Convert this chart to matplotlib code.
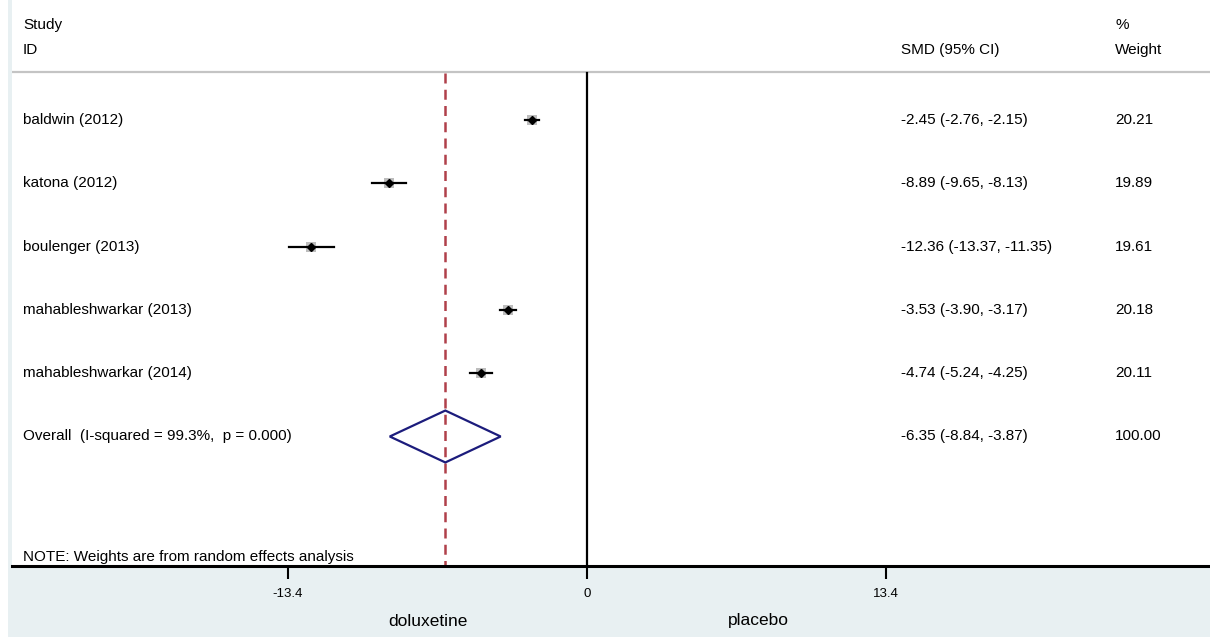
import matplotlib
matplotlib.use("Agg")
import matplotlib.pyplot as plt
import matplotlib.transforms as mtransforms
from matplotlib.patches import Polygon, Rectangle

plt.rcParams['font.family'] = ['Liberation Sans', 'DejaVu Sans']

# Study data (SMD, 95% CI, % weight)
studies = ["baldwin (2012)", "katona (2012)", "boulenger (2013)",
           "mahableshwarkar (2013)", "mahableshwarkar (2014)"]
smd = [-2.45, -8.89, -12.36, -3.53, -4.74]
ci_lo = [-2.76, -9.65, -13.37, -3.90, -5.24]
ci_hi = [-2.15, -8.13, -11.35, -3.17, -4.25]
weights = [20.21, 19.89, 19.61, 20.18, 20.11]

overall_label = "Overall  (I-squared = 99.3%,  p = 0.000)"
overall = -6.35
overall_lo = -8.84
overall_hi = -3.87
overall_weight = 100.00

xticks = [-13.4, 0, 13.4]
left_label = "doluxetine"
right_label = "placebo"
note = "NOTE: Weights are from random effects analysis"

bg = "#e8f0f2"
fig = plt.figure(figsize=(12.10, 6.37), dpi=100, facecolor="white")
fig.patches.append(Rectangle((8 / 1210, 0), 1, 1, transform=fig.transFigure,
                             facecolor=bg, edgecolor="none", zorder=-10))

ax = fig.add_axes([12 / 1210, 71 / 637, 1198 / 1210, 566 / 637])
ax.set_facecolor("white")
ax.set_xlim(-25.77, 27.92)
ax.set_ylim(7.046, -1.896)
for s in ["top", "left", "right"]:
    ax.spines[s].set_visible(False)
ax.spines["bottom"].set_linewidth(2.2)
ax.set_yticks([])
ax.set_xticks(xticks)
ax.set_xticklabels([f"{t:g}" for t in xticks])
ax.tick_params(axis="x", length=9, width=1.5, pad=7, labelsize=9.5)

bt = mtransforms.blended_transform_factory(ax.transAxes, ax.transData)
fs = 11
x_id, x_smd, x_w = 0.0092, 0.742, 0.921

# header
ax.text(x_id, -1.50, "Study", fontsize=fs, transform=bt, va="center")
ax.text(x_id, -1.11, "ID", fontsize=fs, transform=bt, va="center")
ax.text(x_smd, -1.11, "SMD (95% CI)", fontsize=fs, transform=bt, va="center")
ax.text(x_w, -1.50, "%", fontsize=fs, transform=bt, va="center")
ax.text(x_w, -1.11, "Weight", fontsize=fs, transform=bt, va="center")
ax.plot([0, 1], [-0.76, -0.76], transform=bt, color="#c4c4c4", lw=1.6)

# reference lines
ax.plot([0, 0], [-0.74, 7.046], color="black", lw=1.6, zorder=2)
ax.plot([overall, overall], [-0.74, 7.046], color="#b0404a", lw=1.8,
        linestyle=(0, (4, 2.5)), zorder=2)

# studies
for i, name in enumerate(studies):
    ax.text(x_id, i, name, fontsize=fs, transform=bt, va="center")
    ax.text(x_smd, i, f"{smd[i]:.2f} ({ci_lo[i]:.2f}, {ci_hi[i]:.2f})",
            fontsize=fs, transform=bt, va="center")
    ax.text(x_w, i, f"{weights[i]:.2f}", fontsize=fs, transform=bt, va="center")
    ax.plot(smd[i], i, marker="s", markersize=weights[i] * 0.38,
            color="#bdbdbd", markeredgewidth=0, zorder=3)
    ax.plot([ci_lo[i], ci_hi[i]], [i, i], color="black", lw=1.6, zorder=4)
    ax.plot(smd[i], i, marker="D", markersize=4.5, color="black", zorder=5)

# overall
yo = len(studies)
ax.add_patch(Polygon([[overall_lo, yo], [overall, yo - 0.41], [overall_hi, yo],
                      [overall, yo + 0.41]], closed=True, fill=False,
                     edgecolor="#1c1c7c", lw=1.6, zorder=5))
ax.text(x_id, yo, overall_label, fontsize=fs, transform=bt, va="center")
ax.text(x_smd, yo, f"{overall:.2f} ({overall_lo:.2f}, {overall_hi:.2f})",
        fontsize=fs, transform=bt, va="center")
ax.text(x_w, yo, f"{overall_weight:.2f}", fontsize=fs, transform=bt, va="center")

ax.text(x_id, 6.90, note, fontsize=fs, transform=bt, va="center")

# bottom labels
fig.text(428 / 1210, 1 - 621 / 637, left_label, fontsize=12.5, ha="center", va="center")
fig.text(758 / 1210, 1 - 621 / 637, right_label, fontsize=12.5, ha="center", va="center")

fig.savefig("out.png", dpi=100, facecolor=fig.get_facecolor())
